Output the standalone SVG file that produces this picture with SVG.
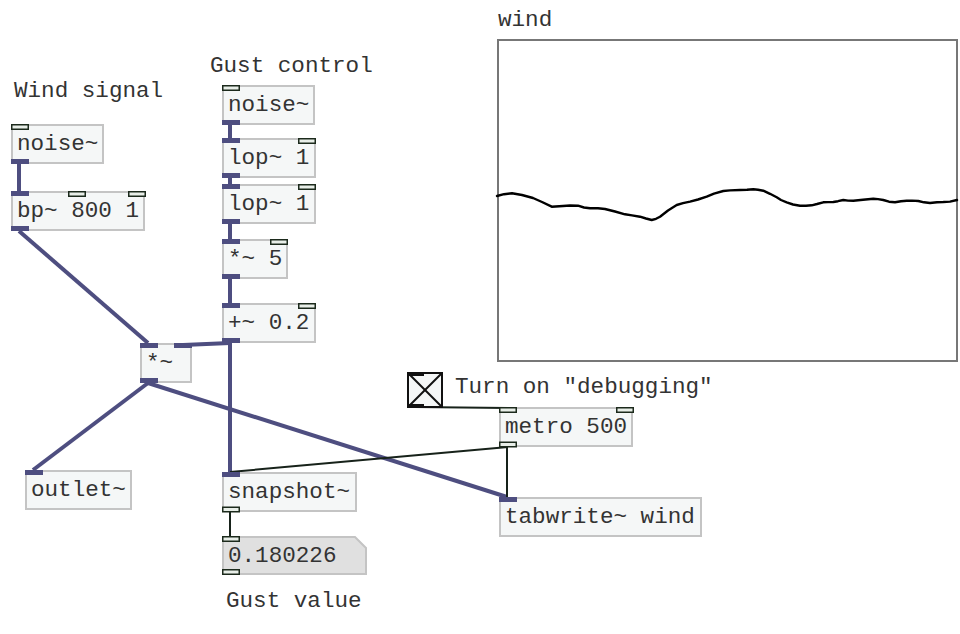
<svg xmlns="http://www.w3.org/2000/svg" width="960" height="634" viewBox="0 0 960 634">
  <style>
    .box { fill: #f5f7f7; stroke: #c4c4c4; stroke-width: 2; }
    .num { fill: #e0e0e0; stroke: #c4c4c4; stroke-width: 2; }
    .io { fill: #e8eee8; stroke: #1c2a1c; stroke-width: 1.5; }
    .sig { fill: #4e4e80; }
    .txt { font-family: "Liberation Mono", "Courier New", monospace; font-size: 22.6px; fill: #333; }
    .cs { stroke: #4e4e80; stroke-width: 4; fill: none; }
    .cc { stroke: #17221a; stroke-width: 2; fill: none; }
  </style>

  <!-- comments -->
  <g id="labels" class="txt">
    <text x="14" y="97">Wind signal</text>
    <text x="210" y="72">Gust control</text>
    <text x="498" y="26">wind</text>
    <text x="455" y="393">Turn on "debugging"</text>
    <text x="226" y="607">Gust value</text>
  </g>

  <!-- array graph -->
  <g id="array-wind">
    <rect x="498" y="40" width="459" height="321" fill="#ffffff" stroke="#777777" stroke-width="2"/>
    <polyline fill="none" stroke="#000" stroke-width="2.4" stroke-linejoin="round" stroke-linecap="round"
      points="497,196 504,194.2 512,193.3 522,195 533,198 542,202 551.7,206.7 563,206 570,205.5 578,205.7 584,207.5 590,208.3 598,208.3 605,209 615,211.5 625,214.3 632,215.4 640,216.7 646,218.5 651.7,220 656,218.8 660,216.7 668,210.5 676.7,205 683,203.2 690,201.7 698,199.5 706.7,196.7 714,193.6 723.3,191 730,190.4 740,190 747,189.8 753.3,189.3 758,189.8 763.3,190.7 770,193.8 776.7,197.3 781,200 786.7,202.3 793,204.5 800,205.7 806,205.8 811.7,205.3 817,204 823.3,202.3 828,202.1 833.3,202 838,201.2 843.3,200 848,200.6 853.3,200.7 863,199.8 873.3,198.7 878,199.1 883.3,200 889,201.7 895,202.3 901,201.3 906.7,200.7 912,200.6 918.3,201 924,202.3 930,203 937,202.2 943.3,202 950,201.6 957,200"/>
  </g>

  <!-- patch cords -->
  <g id="connectors">
    <line class="cs" x1="19" y1="164" x2="19" y2="191"/>
    <line class="cs" x1="19" y1="231" x2="148" y2="343"/>
    <line class="cs" x1="230" y1="125" x2="230" y2="138"/>
    <line class="cs" x1="230" y1="178" x2="230" y2="184"/>
    <line class="cs" x1="230" y1="224" x2="230" y2="239"/>
    <line class="cs" x1="230" y1="279" x2="230" y2="303"/>
    <line class="cs" x1="230" y1="343" x2="183" y2="345"/>
    <line class="cs" x1="230" y1="343" x2="230" y2="472"/>
    <line class="cs" x1="148" y1="383" x2="33" y2="470"/>
    <line class="cs" x1="148" y1="383" x2="507" y2="497"/>
    <line class="cc" x1="415" y1="407" x2="508" y2="408"/>
    <line class="cc" x1="508" y1="447" x2="230" y2="472"/>
    <line class="cc" x1="507" y1="447" x2="507" y2="497"/>
    <line class="cc" x1="230" y1="512" x2="230" y2="536"/>
  </g>

  <g id="noise-wind">
    <rect class="box" x="12" y="125" width="91" height="38"/>
    <text class="txt" x="17" y="150">noise~</text>
    <rect class="io" x="11.75" y="124.75" width="16.5" height="4.5"/>
    <rect class="sig" x="11" y="159" width="18" height="5"/>
  </g>

  <g id="bp">
    <rect class="box" x="12" y="192" width="132" height="38"/>
    <text class="txt" x="17" y="217">bp~ 800 1</text>
    <rect class="sig" x="11" y="191" width="18" height="5"/>
    <rect class="io" x="68.75" y="191.75" width="16.5" height="4.5"/>
    <rect class="io" x="128.75" y="191.75" width="16.5" height="4.5"/>
    <rect class="sig" x="11" y="226" width="18" height="5"/>
  </g>

  <g id="noise-gust">
    <rect class="box" x="223" y="86" width="91" height="38"/>
    <text class="txt" x="228" y="111">noise~</text>
    <rect class="io" x="222.75" y="85.75" width="16.5" height="4.5"/>
    <rect class="sig" x="222" y="120" width="18" height="5"/>
  </g>

  <g id="lop-1">
    <rect class="box" x="223" y="139" width="92" height="38"/>
    <text class="txt" x="228" y="164">lop~ 1</text>
    <rect class="sig" x="222" y="138" width="18" height="5"/>
    <rect class="io" x="298.75" y="138.75" width="16.5" height="4.5"/>
    <rect class="sig" x="222" y="173" width="18" height="5"/>
  </g>

  <g id="lop-2">
    <rect class="box" x="223" y="185" width="92" height="38"/>
    <text class="txt" x="228" y="210">lop~ 1</text>
    <rect class="sig" x="222" y="184" width="18" height="5"/>
    <rect class="io" x="298.75" y="184.75" width="16.5" height="4.5"/>
    <rect class="sig" x="222" y="219" width="18" height="5"/>
  </g>

  <g id="mul-5">
    <rect class="box" x="223" y="240" width="64" height="38"/>
    <text class="txt" x="228" y="265">*~ 5</text>
    <rect class="sig" x="222" y="239" width="18" height="5"/>
    <rect class="io" x="270.75" y="239.75" width="16.5" height="4.5"/>
    <rect class="sig" x="222" y="274" width="18" height="5"/>
  </g>

  <g id="add-02">
    <rect class="box" x="223" y="304" width="92" height="38"/>
    <text class="txt" x="228" y="329">+~ 0.2</text>
    <rect class="sig" x="222" y="303" width="18" height="5"/>
    <rect class="io" x="298.75" y="303.75" width="16.5" height="4.5"/>
    <rect class="sig" x="222" y="338" width="18" height="5"/>
  </g>

  <g id="mul">
    <rect class="box" x="141" y="344" width="50" height="38"/>
    <text class="txt" x="146" y="369">*~</text>
    <rect class="sig" x="140" y="343" width="18" height="5"/>
    <rect class="sig" x="174" y="343" width="18" height="5"/>
    <rect class="sig" x="140" y="378" width="18" height="5"/>
  </g>

  <g id="outlet">
    <rect class="box" x="26" y="471" width="105" height="38"/>
    <text class="txt" x="31" y="496">outlet~</text>
    <rect class="sig" x="25" y="470" width="18" height="5"/>
  </g>

  <g id="snapshot">
    <rect class="box" x="223" y="473" width="133" height="38"/>
    <text class="txt" x="228" y="498">snapshot~</text>
    <rect class="sig" x="222" y="472" width="18" height="5"/>
    <rect class="io" x="222.75" y="507.25" width="16.5" height="4.5"/>
  </g>

  <g id="gust-value">
    <path class="num" d="M223,537 H355 L366,548 V574 H223 Z"/>
    <text class="txt" x="228" y="562">0.180226</text>
    <rect class="io" x="222.75" y="536.75" width="16.5" height="4.5"/>
    <rect class="io" x="222.75" y="569.75" width="16.5" height="4.5"/>
  </g>

  <g id="toggle">
    <rect x="408" y="373" width="34" height="34" fill="#f5f7f7" stroke="#111" stroke-width="2"/>
    <line x1="409" y1="374" x2="441" y2="406" stroke="#111" stroke-width="2"/>
    <line x1="441" y1="374" x2="409" y2="406" stroke="#111" stroke-width="2"/>
    <rect x="407" y="372" width="17" height="4" fill="#111"/>
    <rect x="407" y="404" width="17" height="4" fill="#111"/>
  </g>

  <g id="metro">
    <rect class="box" x="500" y="408" width="132" height="38"/>
    <text class="txt" x="505" y="433">metro 500</text>
    <rect class="io" x="499.75" y="407.75" width="16.5" height="4.5"/>
    <rect class="io" x="616.75" y="407.75" width="16.5" height="4.5"/>
    <rect class="io" x="499.75" y="442.25" width="16.5" height="4.5"/>
  </g>

  <g id="tabwrite">
    <rect class="box" x="500" y="498" width="201" height="38"/>
    <text class="txt" x="505" y="523">tabwrite~ wind</text>
    <rect class="sig" x="499" y="497" width="18" height="5"/>
  </g>
</svg>
